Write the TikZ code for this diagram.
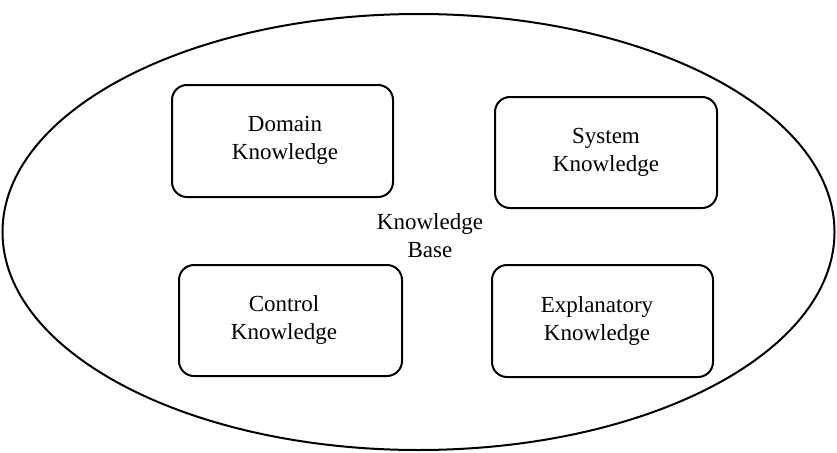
\documentclass[tikz,border=0pt]{standalone}
\usepackage{fontspec}
\setmainfont{Liberation Serif}
\usetikzlibrary{shapes.geometric}
\begin{document}
\begin{tikzpicture}[x=1pt,y=-1pt,
  kbox/.style={draw, line width=2pt, rounded corners=15pt},
  lbl/.style={align=center, font=\fontsize{23}{28}\selectfont, inner sep=0pt}]
\useasboundingbox (0,0) rectangle (837,452);
\node[draw, line width=2pt, ellipse, minimum width=832pt, minimum height=436pt, inner sep=0pt] (kb) at (418.5,232) {};
\node[lbl] (kbt) at (430,236) {Knowledge\\Base};
\draw[kbox] (172,85) rectangle (393,197);
\node[lbl] (dk) at (285,140) {Domain\\Knowledge};
\draw[kbox] (495,97) rectangle (717,208);
\node[lbl] (sk) at (606,152) {System\\Knowledge};
\draw[kbox] (179,265) rectangle (402,376);
\node[lbl] (ck) at (284,320) {Control\\Knowledge};
\draw[kbox] (492,265) rectangle (713,377);
\node[lbl] (ek) at (597,321) {Explanatory\\Knowledge};
\end{tikzpicture}
\end{document}
